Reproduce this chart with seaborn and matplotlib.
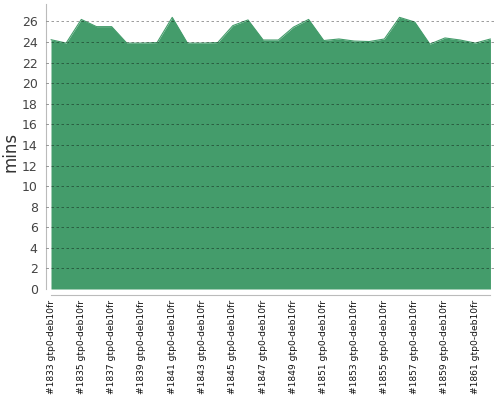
import matplotlib
matplotlib.use("Agg")
import matplotlib.pyplot as plt
import seaborn as sns
import pandas as pd

builds = list(range(1833, 1863))
labels = [f"#{b} gtp0-deb10fr" for b in builds]
mins = [24.23, 23.9, 26.2, 25.5, 25.5, 23.9, 23.9, 23.95, 26.4, 23.9,
        23.9, 23.95, 25.6, 26.15, 24.2, 24.2, 25.45, 26.2, 24.15, 24.3,
        24.1, 24.05, 24.3, 26.4, 25.95, 23.8, 24.4, 24.2, 23.9, 24.3]
yticks = list(range(0, 27, 2))

sns.set_style("white")
plt.rcParams['font.family'] = ['DejaVu Sans']

df = pd.DataFrame({"idx": range(len(mins)), "mins": mins})
color = "#449c6b"

fig = plt.figure(figsize=(5, 4), dpi=100)
ax = fig.add_axes([46/500, 111/400, 449/500, 285/400])

sns.lineplot(data=df, x="idx", y="mins", ax=ax, color=color, linewidth=0.8)
ax.fill_between(df["idx"], 0, df["mins"], color=color, linewidth=0, zorder=2)

ax.set_xlim(-0.33, 29.3)
ax.set_ylim(0, 27.7)
ax.set_yticks(yticks)
ax.set_yticklabels([str(t) for t in yticks])
ax.set_xticks(range(len(labels)))
ax.set_xticklabels([l if i % 2 == 0 else "" for i, l in enumerate(labels)])
ax.tick_params(axis="x", labelrotation=90, labelsize=6.6, labelcolor="#111111",
               length=3, color="#bbbbbb", width=0.8, pad=1)
ax.tick_params(axis="y", labelsize=9, labelcolor="#444444",
               length=4, color="#bbbbbb", width=0.8, pad=2)
ax.set_xlabel("")
ax.set_ylabel("mins", fontsize=12, color="#333333")
ax.yaxis.set_label_coords(-0.058, 0.48)

ax.grid(axis="y", linestyle=(0, (3, 3)), color="#000000", alpha=0.45,
        linewidth=0.6)
ax.set_axisbelow(False)
for l in ax.get_ygridlines():
    l.set_zorder(3)

for s in ["top", "right"]:
    ax.spines[s].set_visible(False)
ax.spines["left"].set_color("#bbbbbb")
ax.spines["bottom"].set_color("#bbbbbb")
ax.spines["bottom"].set_position(("outward", 4))
ax.spines["bottom"].set_bounds(0, 29)

fig.savefig("out.png", dpi=100)
